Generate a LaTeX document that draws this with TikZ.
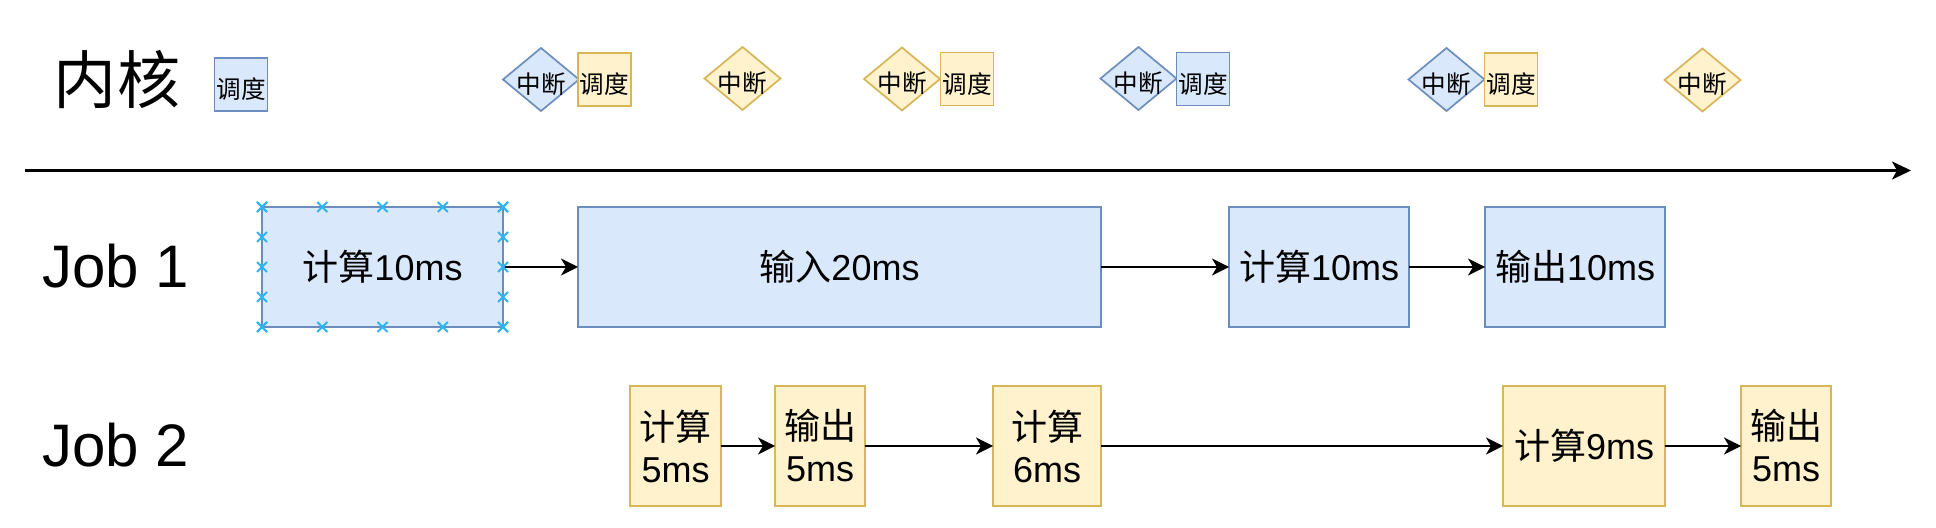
\documentclass[tikz,border=0pt]{standalone}
\usepackage{fontspec}
\setmainfont{Liberation Sans}
\newfontfamily\cjk{Noto Sans CJK SC}
\usetikzlibrary{shapes.geometric,shapes.misc,arrows.meta,calc}
\definecolor{bfill}{HTML}{DAE8FC}
\definecolor{bline}{HTML}{6C8EBF}
\definecolor{yfill}{HTML}{FFF2CC}
\definecolor{yline}{HTML}{D6B656}
\definecolor{cmark}{HTML}{29B6F2}
\tikzset{
  box/.style={draw, line width=0.85pt, inner sep=0pt, outer sep=0pt, align=center,
    minimum height=60pt, font=\fontsize{18}{21}\selectfont},
  bluebox/.style={box, fill=bfill, draw=bline},
  yelbox/.style={box, fill=yfill, draw=yline},
  klab/.style={inner sep=0pt, yshift=-2.3pt, font=\cjk\fontsize{12.3}{14}\selectfont},
  sched/.style={draw, line width=0.85pt, inner sep=0pt, outer sep=0pt,
    minimum width=26.5pt, minimum height=26.5pt, label={[klab]center:#1}},
  bsched/.style={sched=#1, fill=bfill, draw=bline},
  ysched/.style={sched=#1, fill=yfill, draw=yline},
  dia/.style={diamond, line width=0.85pt, inner sep=0pt, outer sep=0pt,
    minimum width=38pt, minimum height=31.5pt, label={[klab]center:#1}},
  bdia/.style={dia=#1, fill=bfill, draw=bline},
  ydia/.style={dia=#1, fill=yfill, draw=yline},
  conn/.style={-{Stealth[length=8.5pt,width=8.5pt,inset=2.5pt]}, line width=1.15pt},
  axis/.style={-{Stealth[length=9.5pt,width=9pt,inset=2.5pt]}, line width=1.3pt},
  bigtxt/.style={inner sep=0pt, font=\fontsize{30}{34}\selectfont},
  xmark/.style={cross out, draw=cmark, line width=1pt, minimum size=4pt, inner sep=0pt}
}
\begin{document}
\begin{tikzpicture}[x=0.5pt,y=-0.5pt]
\fill[white] (0,0) rectangle (1936,528);
\useasboundingbox (0,0) rectangle (1936,528);

% labels
\node[bigtxt, font=\cjk\fontsize{31.5}{34}\selectfont] (kern) at (117,80) {内核};
\node[bigtxt] (job1) at (116,266) {Job 1};
\node[bigtxt] (job2) at (116,445) {Job 2};

% kernel row
\node[bsched=调度] (k0) at (241,84.5) {};
\node[bdia=中断] (d1) at (541,79.5) {};
\node[ysched=调度] (k1) at (604.5,79.5) {};
\node[ydia=中断] (d2) at (742.5,78.5) {};
\node[ydia=中断] (d3) at (902,79) {};
\node[ysched=调度] (k2) at (967,79) {};
\node[bdia=中断] (d4) at (1138.5,78.5) {};
\node[bsched=调度] (k3) at (1203,79) {};
\node[bdia=中断] (d5) at (1446.5,79.5) {};
\node[ysched=调度] (k4) at (1511,79.5) {};
\node[ydia=中断] (d6) at (1702.5,80) {};

% axis
\coordinate (ax0) at (25,170.5);
\coordinate (ax1) at (1911,170.5);
\draw[axis] (ax0) -- (ax1);

% job 1
\node[bluebox, minimum width=120.5pt] (j1a) at (382.5,267) {{\cjk 计算}10ms};
\node[bluebox, minimum width=261.5pt] (j1b) at (839.5,267) {{\cjk 输入}20ms};
\node[bluebox, minimum width=90pt] (j1c) at (1319,267) {{\cjk 计算}10ms};
\node[bluebox, minimum width=90pt] (j1d) at (1575,267) {{\cjk 输出}10ms};

% job 2
\node[yelbox, minimum width=45.5pt] (j2a) at (675.5,446) {{\cjk 计算}\\5ms};
\node[yelbox, minimum width=45pt] (j2b) at (820,446) {{\cjk 输出}\\5ms};
\node[yelbox, minimum width=54pt] (j2c) at (1047,446) {{\cjk 计算}\\6ms};
\node[yelbox, minimum width=81pt] (j2d) at (1584,446) {{\cjk 计算}9ms};
\node[yelbox, minimum width=45pt] (j2e) at (1786,446) {{\cjk 输出}\\5ms};

% connectors
\draw[conn] (j1a.east) -- (j1b.west);
\draw[conn] (j1b.east) -- (j1c.west);
\draw[conn] (j1c.east) -- (j1d.west);
\draw[conn] (j2a.east) -- (j2b.west);
\draw[conn] (j2b.east) -- (j2c.west);
\draw[conn] (j2c.east) -- (j2d.west);
\draw[conn] (j2d.east) -- (j2e.west);

% connection point markers on the selected box
\foreach \t [count=\i] in {0,0.25,0.5,0.75,1} {
  \node[xmark] (mt\i) at ($(j1a.north west)!\t!(j1a.north east)$) {};
  \node[xmark] (mb\i) at ($(j1a.south west)!\t!(j1a.south east)$) {};
  \node[xmark] (ml\i) at ($(j1a.north west)!\t!(j1a.south west)$) {};
  \node[xmark] (mr\i) at ($(j1a.north east)!\t!(j1a.south east)$) {};
}
\end{tikzpicture}
\end{document}
